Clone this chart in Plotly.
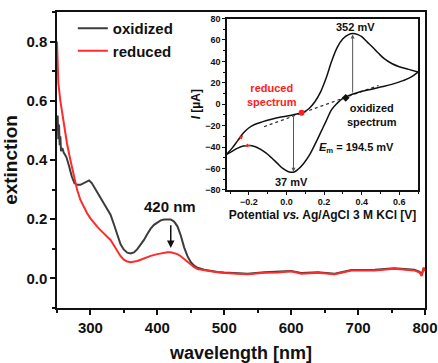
import plotly.graph_objects as go

# ---- main spectra ----
wl_ox = [250, 251, 252, 253, 254, 255, 256, 258, 260, 264, 268, 272, 276, 280, 285, 290, 295, 298,
         302, 307, 312, 318, 324, 330, 335, 340, 345, 350, 355, 360, 365, 370, 375, 380, 385, 390,
         395, 400, 405, 410, 415, 420, 425, 430, 435, 440, 445, 450, 455, 460, 470, 480, 490, 500,
         520, 535, 560, 580, 600, 615, 640, 665, 690, 725, 754, 784, 792, 795, 798, 800]
ext_ox = [0.50, 0.55, 0.47, 0.52, 0.45, 0.48, 0.43, 0.44, 0.425, 0.41, 0.38, 0.345, 0.322, 0.316,
          0.316, 0.322, 0.330, 0.331, 0.322, 0.303, 0.285, 0.262, 0.240, 0.215, 0.183, 0.145, 0.115,
          0.097, 0.087, 0.084, 0.088, 0.099, 0.113, 0.130, 0.150, 0.168, 0.181, 0.190, 0.196, 0.199,
          0.200, 0.199, 0.192, 0.176, 0.145, 0.105, 0.075, 0.055, 0.043, 0.036, 0.029, 0.025, 0.022,
          0.020, 0.018, 0.016, 0.021, 0.022, 0.025, 0.018, 0.021, 0.016, 0.028, 0.029, 0.034, 0.029,
          0.022, 0.012, 0.036, 0.027]

wl_red = [250, 251, 252, 255, 260, 265, 270, 275, 280, 285, 290, 295, 300, 305, 310, 315, 320, 325,
          330, 335, 340, 345, 350, 355, 360, 365, 370, 375, 380, 390, 400, 410, 415, 420, 425, 430,
          435, 440, 445, 450, 455, 460, 470, 480, 490, 500, 520, 535, 560, 580, 600, 615, 640, 665,
          690, 725, 754, 784, 792, 795, 798, 800]
ext_red = [0.80, 0.72, 0.66, 0.60, 0.52, 0.455, 0.40, 0.345, 0.30, 0.265, 0.240, 0.220, 0.203, 0.188,
           0.175, 0.163, 0.153, 0.142, 0.130, 0.112, 0.092, 0.075, 0.063, 0.057, 0.055, 0.056, 0.059,
           0.063, 0.068, 0.076, 0.082, 0.087, 0.088, 0.088, 0.086, 0.082, 0.075, 0.065, 0.055, 0.046,
           0.038, 0.032, 0.027, 0.024, 0.021, 0.018, 0.016, 0.014, 0.019, 0.020, 0.024, 0.016, 0.019,
           0.014, 0.027, 0.027, 0.033, 0.027, 0.020, 0.008, 0.035, 0.025]

# ---- inset cyclic voltammogram ----
E_fwd = [-0.32, -0.29, -0.26, -0.23, -0.20, -0.17, -0.13, -0.08, -0.03, 0.02, 0.06, 0.09, 0.12, 0.15,
         0.18, 0.21, 0.24, 0.27, 0.30, 0.33, 0.352, 0.38, 0.40, 0.43, 0.46, 0.49, 0.52, 0.56, 0.60,
         0.65, 0.70]
I_fwd = [-47, -41, -34, -27, -22, -19, -16.5, -14, -12, -10.5, -9, -7.5, -4, 2, 11, 24, 40, 53, 61,
         65, 66, 65, 63, 58, 53, 47.5, 42.5, 38, 35, 32.5, 30]
E_rev = [0.70, 0.66, 0.62, 0.56, 0.50, 0.44, 0.38, 0.33, 0.30, 0.27, 0.24, 0.21, 0.18, 0.15, 0.12,
         0.09, 0.06, 0.037, 0.01, -0.02, -0.05, -0.08, -0.11, -0.14, -0.17, -0.20, -0.23, -0.26,
         -0.29, -0.32]
I_rev = [30, 25, 22, 18.5, 16, 13.5, 11, 8, 5.5, 1, -5, -16, -27, -38, -48, -55.5, -61, -63.5, -63,
         -60, -55, -50, -45.5, -42, -39.5, -38.5, -39, -41, -44, -47]
E_base = [-0.12, 0.49]
I_base = [-21, 17.5]
E_red_pt, I_red_pt = [0.08], [-8]
E_ox_pt, I_ox_pt = [0.315], [6]

FONT = "Liberation Sans"
BLACK = "#111111"

fig = go.Figure()
fig.add_trace(go.Scatter(x=wl_ox, y=ext_ox, mode="lines", name="oxidized",
                         line=dict(color="#3c3c3c", width=2)))
fig.add_trace(go.Scatter(x=wl_red, y=ext_red, mode="lines", name="reduced",
                         line=dict(color="#ff2b2b", width=2)))

# inset traces
fig.add_trace(go.Scatter(x=E_base, y=I_base, mode="lines", xaxis="x2", yaxis="y2", showlegend=False,
                         line=dict(color="#333333", width=1.2, dash="dot")))
fig.add_trace(go.Scatter(x=E_fwd, y=I_fwd, mode="lines", xaxis="x2", yaxis="y2", showlegend=False,
                         line=dict(color=BLACK, width=1.5, shape="spline")))
fig.add_trace(go.Scatter(x=E_rev, y=I_rev, mode="lines", xaxis="x2", yaxis="y2", showlegend=False,
                         line=dict(color=BLACK, width=1.5, shape="spline")))
fig.add_trace(go.Scatter(x=E_red_pt, y=I_red_pt, mode="markers", xaxis="x2", yaxis="y2",
                         showlegend=False, marker=dict(color="#ff2020", size=6, symbol="circle")))
fig.add_trace(go.Scatter(x=E_ox_pt, y=I_ox_pt, mode="markers", xaxis="x2", yaxis="y2",
                         showlegend=False, marker=dict(color=BLACK, size=6, symbol="diamond")))

axis_common = dict(showline=True, mirror=True, linecolor=BLACK, showgrid=False, zeroline=False,
                   ticks="outside", tickcolor=BLACK, automargin=False)

fig.update_layout(
    template="none",
    width=438, height=363,
    margin=dict(l=57, r=13, t=12, b=55),
    paper_bgcolor="white", plot_bgcolor="white",
    font=dict(family=FONT, color=BLACK, weight="bold"),
    showlegend=True,
    legend=dict(x=0.043, y=1.0, xanchor="left", yanchor="top", bgcolor="rgba(0,0,0,0)",
                font=dict(size=15, family=FONT, weight="bold"), tracegroupgap=0),
    xaxis=dict(**axis_common, range=[250, 800], dtick=100, tick0=0, ticklen=5, tickwidth=1.5,
               linewidth=1.5, minor=dict(dtick=50, ticklen=3, ticks="outside", tickcolor=BLACK),
               tickfont=dict(size=15, family=FONT, weight="bold"),
               title=dict(text="wavelength [nm]", font=dict(size=18, family=FONT, weight="bold"),
                          standoff=12)),
    yaxis=dict(**axis_common, range=[-0.1, 0.9], dtick=0.2, tick0=0, tickformat=".1f", ticklen=5,
               tickwidth=1.5, linewidth=1.5,
               minor=dict(dtick=0.1, ticklen=3, ticks="outside", tickcolor=BLACK),
               tickfont=dict(size=15, family=FONT, weight="bold"),
               title=dict(text="extinction", font=dict(size=19, family=FONT, weight="bold"),
                          standoff=6)),
    xaxis2=dict(**axis_common, domain=[0.462, 0.981], anchor="y2", range=[-0.317, 0.70], dtick=0.2,
                tick0=0, tickformat=".1f", ticklen=3, tickwidth=1, linewidth=1.5,
                minor=dict(dtick=0.1, ticklen=2, ticks="outside", tickcolor=BLACK),
                tickfont=dict(size=9, family=FONT, weight="bold"),
                title=dict(text="Potential <i>vs.</i> Ag/AgCl 3 M KCl [V]",
                           font=dict(size=12, family=FONT, weight="bold"), standoff=4)),
    yaxis2=dict(**axis_common, domain=[0.399, 0.978], anchor="x2", range=[-80, 80], dtick=20,
                ticklen=3, tickwidth=1, linewidth=1.5,
                minor=dict(dtick=10, ticklen=2, ticks="outside", tickcolor=BLACK),
                tickfont=dict(size=9, family=FONT, weight="bold"),
                title=dict(text="<i>I</i> [µA]", font=dict(size=12, family=FONT, weight="bold"),
                           standoff=2)),
)

ann = []
# main arrow and label
ann.append(dict(x=420, y=0.103, ax=420, ay=0.185, axref="x", ayref="y", xref="x", yref="y",
                text="", showarrow=True, arrowhead=2, arrowsize=1, arrowwidth=1.5, arrowcolor=BLACK))
ann.append(dict(x=419, y=0.244, xref="x", yref="y", text="420 nm", showarrow=False,
                font=dict(size=15, family=FONT, weight="bold", color=BLACK)))
# inset arrows
ann.append(dict(x=0.352, y=65, ax=0.352, ay=9.5, axref="x2", ayref="y2", xref="x2", yref="y2",
                text="", showarrow=True, arrowhead=2, arrowsize=0.8, arrowwidth=1, arrowcolor="#555555"))
ann.append(dict(x=0.037, y=-63, ax=0.037, ay=-10, axref="x2", ayref="y2", xref="x2", yref="y2",
                text="", showarrow=True, arrowhead=2, arrowsize=0.8, arrowwidth=1, arrowcolor="#555555"))
ann.append(dict(x=-0.232, y=-29, ax=-6, ay=7, xref="x2", yref="y2", text="", showarrow=True,
                arrowhead=2, arrowsize=0.8, arrowwidth=1, arrowcolor="#ff2020"))
ann.append(dict(x=-0.225, y=-39, ax=8, ay=-1, xref="x2", yref="y2", text="", showarrow=True,
                arrowhead=2, arrowsize=0.8, arrowwidth=1, arrowcolor="#ff2020"))
# inset labels
small = dict(size=11, family=FONT, weight="bold")
ann.append(dict(x=0.365, y=72.4, xref="x2", yref="y2", text="352 mV", showarrow=False,
                font=dict(**small, color=BLACK)))
ann.append(dict(x=0.028, y=-72.2, xref="x2", yref="y2", text="37 mV", showarrow=False,
                font=dict(**small, color=BLACK)))
ann.append(dict(x=-0.079, y=8.6, xref="x2", yref="y2", text="reduced<br>spectrum", showarrow=False,
                font=dict(**small, color="#ff2020")))
ann.append(dict(x=0.454, y=-10, xref="x2", yref="y2", text="oxidized<br>spectrum", showarrow=False,
                font=dict(**small, color=BLACK)))
ann.append(dict(x=0.374, y=-41, xref="x2", yref="y2", text="<i>E</i><sub>m</sub> = 194.5 mV",
                showarrow=False, font=dict(**small, color=BLACK)))
fig.update_layout(annotations=ann)

fig.write_html("out.html")
